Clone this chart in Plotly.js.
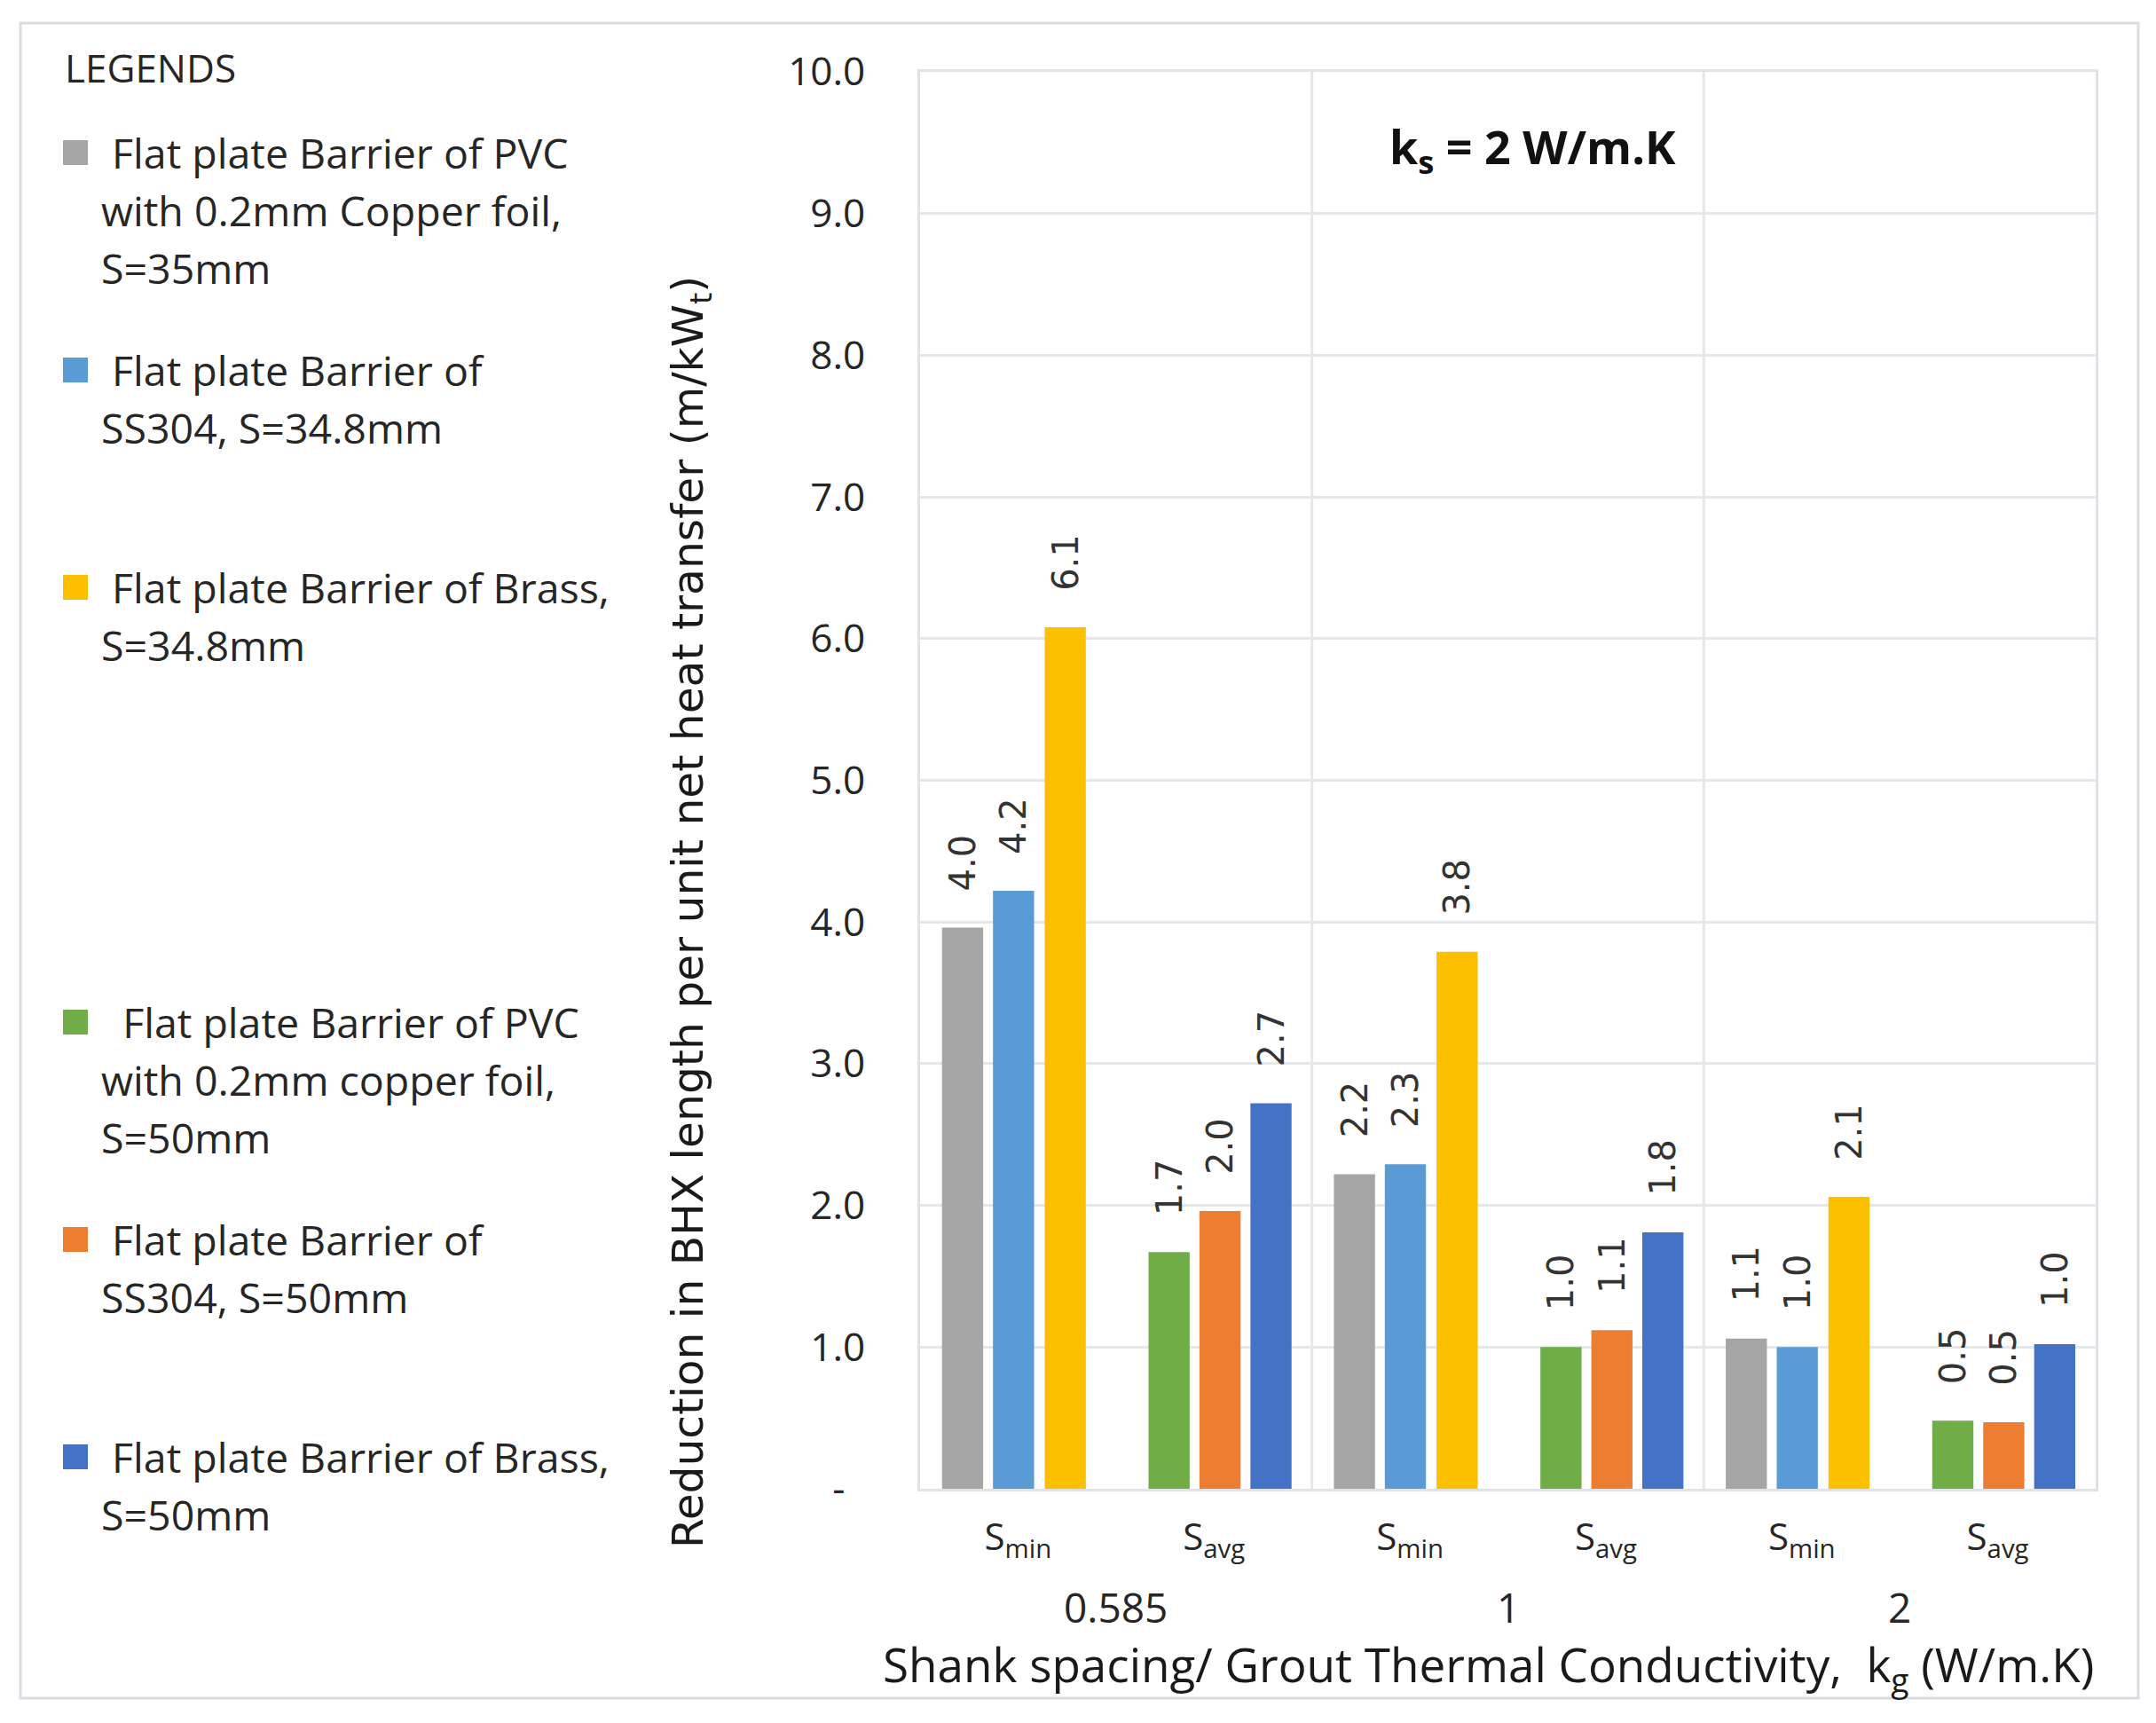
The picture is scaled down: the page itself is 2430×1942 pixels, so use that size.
<!DOCTYPE html>
<html>
<head>
<meta charset="utf-8">
<script src="https://cdn.plot.ly/plotly-3.0.1.min.js"></script>
<style>
  body { margin: 0; background: #fff; }
</style>
</head>
<body>
<div id="chart"></div>
<script>
// grout conductivity groups and the two shank spacings in each group
var groups = ['0.585', '1', '2'];
var spacings = ['S<sub>min</sub>', 'S<sub>avg</sub>'];

// reduction in BHX length (m/kWt), one value per group
var pvcCu35 = [3.96, 2.22, 1.06];
var ss304_348 = [4.22, 2.29, 1.00];
var brass348 = [6.08, 3.79, 2.06];
var pvcCu50 = [1.67, 1.00, 0.48];
var ss304_50 = [1.96, 1.12, 0.47];
var brass50 = [2.72, 1.81, 1.02];

var yTicks = [0, 1, 2, 3, 4, 5, 6, 7, 8, 9, 10];

var legendLines = [
  ['\u00a0Flat plate Barrier of PVC', 'with 0.2mm Copper foil,', 'S=35mm'],
  ['\u00a0Flat plate Barrier of', 'SS304, S=34.8mm'],
  ['\u00a0Flat plate Barrier of Brass,', 'S=34.8mm'],
  ['\u00a0\u00a0Flat plate Barrier of PVC', 'with 0.2mm copper foil,', 'S=50mm'],
  ['\u00a0Flat plate Barrier of', 'SS304, S=50mm'],
  ['\u00a0Flat plate Barrier of Brass,', 'S=50mm']
];

var colors = ['#a5a5a5', '#5b9bd5', '#fcc000', '#70ad47', '#ed7d31', '#4472c4'];
var series = [pvcCu35, ss304_348, brass348, pvcCu50, ss304_50, brass50];

// page geometry in pixels
var W = 2430, H = 1942;
var L = 1037, R = 2362, T = 81, B = 1678;
function px(x) { return (x - L) / (R - L); }
function py(y) { return (B - y) / (B - T); }

var barWidth = 0.21;
// left edge of each bar relative to its category (Smin trio, Savg trio)
var offsets = [-0.388, -0.128, 0.136, -0.334, -0.074, 0.186];

var traces = series.map(function (vals, k) {
  var isAvg = k >= 3;
  return {
    type: 'bar',
    x: groups.map(function (g, i) { return 2 * i + (isAvg ? 1 : 0); }),
    y: vals,
    width: barWidth,
    offset: offsets[k],
    marker: { color: colors[k] },
    texttemplate: '\u00a0\u00a0\u00a0%{y:.1f}',
    textposition: 'outside',
    textangle: -90,
    constraintext: 'none',
    cliponaxis: false,
    textfont: { family: 'DejaVu Sans', size: 40, color: '#333' },
    showlegend: false,
    hoverinfo: 'skip'
  };
});

var shapes = [];
var annotations = [];

// outer frame
shapes.push({
  type: 'rect', xref: 'paper', yref: 'paper',
  x0: px(23), x1: px(2410), y0: py(1914), y1: py(26),
  line: { color: '#d9dde3', width: 3 }, layer: 'below'
});

// separators between the grout conductivity groups
for (var i = 0; i < groups.length - 1; i++) {
  shapes.push({
    type: 'line', xref: 'x', yref: 'paper',
    x0: 2 * i + 1.5, x1: 2 * i + 1.5, y0: 0, y1: 1,
    line: { color: '#e4e7ec', width: 3 }, layer: 'below'
  });
}

// group labels under the spacing labels
groups.forEach(function (g, i) {
  annotations.push({
    xref: 'x', yref: 'paper', x: 2 * i + 0.5, y: py(1811),
    text: g, showarrow: false, xanchor: 'center', yanchor: 'middle',
    font: { size: 46, color: '#262626' }
  });
});

// legend block on the left
annotations.push({
  xref: 'paper', yref: 'paper', x: px(71), y: py(76),
  text: 'LEGENDS', showarrow: false, xanchor: 'left', yanchor: 'middle',
  font: { size: 44, color: '#262626' }
});
var slots = [0, 1, 2, 4, 5, 6];
legendLines.forEach(function (lines, k) {
  var cy = 172 + slots[k] * 245;
  shapes.push({
    type: 'rect', xref: 'paper', yref: 'paper',
    x0: px(71), x1: px(99), y0: py(cy + 14), y1: py(cy - 14),
    fillcolor: colors[k], line: { width: 0 }
  });
  lines.forEach(function (line, j) {
    annotations.push({
      xref: 'paper', yref: 'paper', x: px(112), y: py(cy + j * 65),
      text: line, showarrow: false, xanchor: 'left', yanchor: 'middle',
      font: { size: 46.5, color: '#262626' }
    });
  });
});

// ks label inside the plot
annotations.push({
  xref: 'paper', yref: 'paper', x: px(1727), y: py(168),
  text: '<b>k<sub>s</sub> = 2 W/m.K</b>', showarrow: false,
  xanchor: 'center', yanchor: 'middle',
  font: { size: 52, color: '#111' }
});

// axis titles
annotations.push({
  xref: 'paper', yref: 'paper', x: 1, y: py(1878),
  text: 'Shank spacing/ Grout Thermal Conductivity,\u00a0 k<sub>g</sub> (W/m.K)',
  showarrow: false, xanchor: 'right', yanchor: 'middle',
  font: { size: 53, color: '#1a1a1a' }
});
annotations.push({
  xref: 'paper', yref: 'paper', x: px(778), y: py(1028),
  text: 'Reduction in BHX length per unit net heat transfer (m/kW<sub>t</sub>)',
  showarrow: false, textangle: -90, xanchor: 'center', yanchor: 'middle',
  font: { family: 'DejaVu Sans', size: 48.7, color: '#1a1a1a' }
});

var layout = {
  width: W,
  height: H,
  margin: { l: L, r: W - R, t: T, b: H - B, pad: 0 },
  paper_bgcolor: '#fff',
  plot_bgcolor: '#fff',
  barmode: 'overlay',
  font: { family: 'Open Sans', size: 44, color: '#262626' },
  xaxis: {
    range: [-0.5, 5.5],
    tickvals: [0, 1, 2, 3, 4, 5],
    ticktext: groups.map(function () { return spacings; }).reduce(function (a, b) { return a.concat(b); }, []),
    tickfont: { size: 42, color: '#262626' },
    ticks: '',
    ticklabelstandoff: 16,
    showgrid: false,
    zeroline: false,
    showline: true,
    mirror: true,
    linecolor: '#dfe2e7',
    linewidth: 3
  },
  yaxis: {
    range: [0, 10],
    tickvals: yTicks,
    ticktext: yTicks.map(function (v) { return v === 0 ? '-\u00a0\u00a0' : v.toFixed(1); }),
    tickfont: { size: 44, color: '#262626' },
    ticks: '',
    ticklabelstandoff: 50,
    gridcolor: '#e4e7ec',
    gridwidth: 3,
    zeroline: false,
    showline: true,
    mirror: true,
    linecolor: '#dfe2e7',
    linewidth: 3
  },
  shapes: shapes,
  annotations: annotations
};

Plotly.newPlot('chart', traces, layout, { displayModeBar: false, staticPlot: true });
</script>
</body>
</html>
